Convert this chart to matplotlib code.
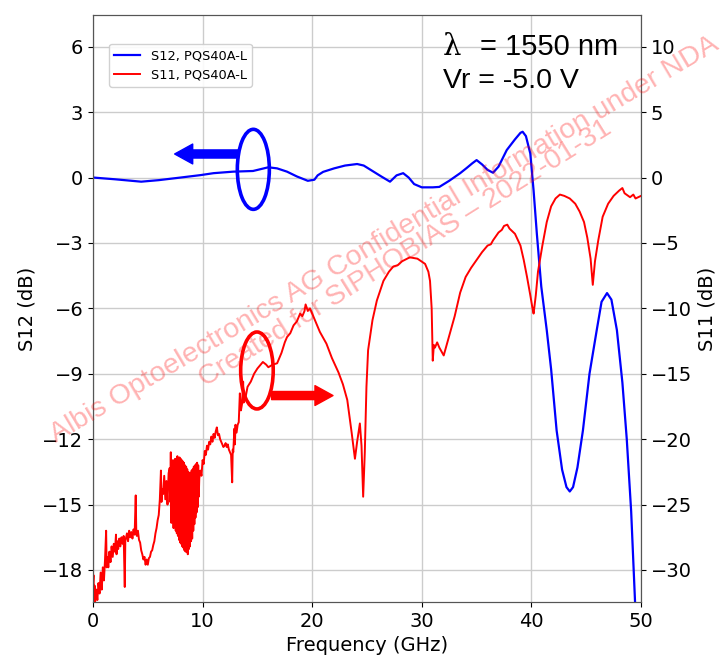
import numpy as np
import matplotlib.pyplot as plt
from matplotlib.patches import Ellipse

# S12 (left axis, dB)
f12 = [0, 2, 4.4, 6, 8, 9.8, 11, 12.8, 14.6, 16.0, 16.8, 17.7, 18.6, 19.6, 20.2,
       20.5, 21.0, 22, 23, 24.1, 24.7, 25.5, 26.3, 27.1, 27.7, 28.3, 28.8, 29.3,
       30.0, 31.0, 31.6, 32.5, 33.5, 34.1, 34.6, 35.0, 35.5, 36.0, 36.5, 37.0,
       37.75, 38.5, 39.0, 39.2, 39.5, 39.9, 40.2, 40.5, 40.9, 41.4, 41.8, 42.3,
       42.8, 43.2, 43.5, 43.8, 44.2, 44.7, 45.3, 45.96, 46.4, 46.9, 47.3, 47.8,
       48.3, 48.7, 49.1, 49.45, 49.8]
s12 = [0, -0.08, -0.19, -0.12, 0.0, 0.11, 0.2, 0.27, 0.3, 0.47, 0.42, 0.27, 0.05,
       -0.15, -0.1, 0.1, 0.26, 0.42, 0.55, 0.62, 0.55, 0.3, 0.05, -0.19, 0.1, 0.2,
       0.0, -0.3, -0.45, -0.45, -0.43, -0.15, 0.2, 0.44, 0.65, 0.8, 0.6, 0.35,
       0.22, 0.5, 1.26, 1.75, 2.05, 2.1, 1.9, 1.1, -0.6, -2.6, -5.0, -7.0, -8.8,
       -11.6, -13.4, -14.2, -14.4, -14.2, -13.3, -11.6, -9.0, -7.0, -5.7, -5.3,
       -5.6, -7.0, -9.4, -12.0, -15.3, -19.4, -23.0]

# S11 (right axis, dB), low-frequency noisy part
f11_lo = [0.0, 0.05, 0.1, 0.15, 0.2, 0.3, 0.4, 0.5, 0.6, 0.7, 0.8, 0.9, 1.0, 1.1,
          1.2, 1.25, 1.3, 1.4, 1.5, 1.6, 1.7, 1.8, 1.9, 2.0, 2.1, 2.15, 2.2, 2.3,
          2.4, 2.5, 2.6, 2.7, 2.8, 2.9, 2.95, 3.0, 3.1, 3.2, 3.3, 3.4, 3.5, 3.6,
          3.7, 3.8, 3.9, 3.95, 4.0, 4.1, 4.2, 4.3, 4.4, 4.5, 4.6, 4.7, 4.8, 4.9,
          5.0, 5.1, 5.2, 5.3, 5.4, 5.5, 5.6, 5.7, 5.8, 5.9, 6.0, 6.1, 6.2, 6.25,
          6.3, 6.4, 6.5, 6.6, 6.7, 6.8, 6.9]
s11_lo = [-31.0, -30.4, -32.4, -31.2, -32.4, -31.5, -32.3, -31.0, -31.8, -30.2,
          -31.5, -29.8, -30.8, -29.2, -27.0, -29.8, -29.0, -29.8, -28.6, -29.4,
          -28.2, -29.0, -28.0, -28.6, -27.3, -28.8, -27.8, -28.4, -27.6, -28.2,
          -27.5, -28.0, -27.4, -31.3, -27.8, -27.6, -27.2, -27.8, -27.0, -27.5,
          -27.1, -27.6, -26.9, -27.3, -24.3, -27.0, -27.4, -27.0, -27.7, -27.9,
          -28.5, -28.8, -29.2, -29.0, -29.6, -29.2, -29.6, -29.1, -29.0, -28.6,
          -28.5, -28.1, -27.8, -27.2, -26.8, -26.2, -25.8, -24.6, -22.4, -24.8,
          -23.8, -24.2, -22.8, -24.6, -23.2, -25.0, -22.6]

# dense ripple band 7-9.6 GHz: upper and lower excursions
band_f = [7.0, 7.1, 7.2, 7.3, 7.4, 7.5, 7.6, 7.7, 7.8, 7.9, 8.0, 8.1, 8.2, 8.3,
          8.4, 8.5, 8.6, 8.7, 8.8, 8.9, 9.0, 9.1, 9.2, 9.3, 9.4, 9.5, 9.6]
band_top = [-22.2, -21.0, -22.4, -21.6, -21.9, -21.5, -21.7, -21.3, -21.6, -21.4,
            -21.5, -21.6, -21.7, -21.8, -22.0, -22.1, -22.3, -22.5, -22.6, -22.6,
            -22.4, -22.3, -22.1, -22.0, -21.9, -21.8, -22.0]
band_bot = [-24.8, -26.4, -25.6, -26.8, -26.3, -27.0, -27.2, -27.4, -27.7, -27.9,
            -28.0, -28.2, -28.3, -28.5, -28.6, -28.6, -28.8, -28.4, -28.2, -27.8,
            -27.6, -27.0, -26.5, -26.0, -25.6, -25.2, -24.4]

f11_hi = [9.7, 9.8, 9.9, 10.0, 10.1, 10.2, 10.3, 10.4, 10.5, 10.6, 10.7, 10.8,
          10.9, 11.0, 11.1, 11.2, 11.3, 11.4, 11.5, 11.6, 11.7, 11.8, 11.9, 12.0,
          12.1, 12.2, 12.3, 12.4, 12.5, 12.6, 12.7, 12.75, 12.8, 12.9, 12.95,
          13.0, 13.1, 13.2, 13.3, 13.4, 13.5, 13.6, 13.7, 13.75, 13.8, 13.9, 14.1,
          14.4, 14.7, 15.0, 15.5, 15.8, 16.0, 16.4, 16.8, 17.2, 17.5, 17.7, 18.0,
          18.3, 18.6, 18.9, 19.1, 19.3, 19.4, 19.6, 19.8, 20.25, 20.7, 21.3, 21.8,
          22.4, 22.8, 23.2, 23.6, 23.9, 24.1, 24.35, 24.5, 24.65, 24.8, 24.95, 25.1,
          25.5, 25.9, 26.5, 27.0, 27.4, 27.8, 28.2, 28.9, 29.6, 30.3, 30.6, 30.75,
          30.9, 31.0, 31.1, 31.2, 31.4, 31.6, 31.8, 32.0, 32.2, 32.4, 32.6, 32.8,
          33.0, 33.5, 34.0, 34.5, 35.0, 35.5, 36.0, 36.3, 36.5, 37.0, 37.3, 37.5,
          37.8, 38.0, 38.5, 39.0, 39.3, 39.6, 39.9, 40.1, 40.2, 40.4, 40.6, 41.0,
          41.4, 41.8, 42.2, 42.6, 43.0, 43.5, 44.0, 44.4, 44.8, 45.1, 45.4, 45.6,
          45.8, 46.1, 46.5, 47.0, 47.5, 48.0, 48.3, 48.5, 49.0, 49.3, 49.5, 50.0]
s11_hi = [-23.0, -22.4, -22.8, -21.6, -21.9, -20.9, -21.2, -20.5, -20.8, -20.2,
          -20.4, -19.8, -20.2, -19.6, -19.9, -19.4, -19.1, -19.7, -19.6, -20.0,
          -20.2, -20.4, -20.6, -20.5, -20.3, -20.6, -20.4, -20.8, -21.0, -21.2,
          -23.3, -20.8, -21.0, -19.2, -20.4, -18.9, -19.5, -18.9, -18.7, -16.5,
          -17.8, -17.3, -15.6, -17.2, -16.8, -16.9, -16.0, -15.6, -15.0, -14.6,
          -14.1, -14.3, -14.5, -14.3, -14.2, -13.4, -12.6, -12.2, -11.9, -11.3,
          -11.0, -10.4, -10.6, -10.2, -9.7, -10.2, -10.0, -10.9, -11.8, -12.7,
          -13.8, -14.9, -15.8, -17.0, -19.5, -21.5, -20.2, -18.8, -20.5, -24.4,
          -21.0, -16.0, -13.2, -10.9, -9.4, -7.9, -7.2, -6.8, -6.7, -6.4, -6.1,
          -6.2, -6.6, -7.2, -7.9, -10.0, -14.0, -12.8, -13.0, -12.6, -13.0, -13.3,
          -13.6, -13.0, -12.4, -11.8, -11.2, -10.6, -8.8, -7.6, -6.9, -6.3, -5.7,
          -5.2, -5.1, -4.8, -4.2, -4.0, -3.7, -3.6, -3.9, -4.3, -5.2, -6.3, -7.6,
          -9.0, -10.0, -10.4, -9.0, -7.2, -5.2, -3.4, -2.2, -1.6, -1.3, -1.4, -1.6,
          -2.0, -2.6, -3.4, -4.6, -6.2, -8.2, -6.4, -4.8, -3.0, -2.0, -1.4, -1.0,
          -0.8, -1.2, -1.5, -1.3, -1.6, -1.4]

f11 = list(f11_lo)
s11 = list(s11_lo)
for f, t, b in zip(band_f, band_top, band_bot):
    f11 += [f, f + 0.05]
    s11 += [t, b]
f11 += f11_hi
s11 += s11_hi

fig = plt.figure(figsize=(7.23, 6.57), dpi=100)
ax = fig.add_axes([0.1286, 0.0837, 0.758, 0.8933])
ax2 = ax.twinx()

l1, = ax.plot(f12, s12, color="blue", lw=1.6, label="S12, PQS40A-L")
l2, = ax2.plot(f11, s11, color="red", lw=1.4, label="S11, PQS40A-L")

ax.set_xlim(0, 50)
ax.set_ylim(-19.47, 7.45)
ax2.set_ylim(-32.45, 12.42)
ax.set_yticks([-18, -15, -12, -9, -6, -3, 0, 3, 6])
ax2.set_yticks([-30, -25, -20, -15, -10, -5, 0, 5, 10])
ax.set_xticks([0, 10, 20, 30, 40, 50])
ax.grid(True, color="#cccccc", lw=1.0)
ax.tick_params(labelsize=14)
ax2.tick_params(labelsize=14)
ax.set_xlabel("Frequency (GHz)", fontsize=14)
ax.set_ylabel("S12 (dB)", fontsize=14)
ax2.set_ylabel("S11 (dB)", fontsize=14)
for a in (ax, ax2):
    for s in a.spines.values():
        s.set_color("#555555")

ax.legend(handles=[l1, l2], loc="upper left", bbox_to_anchor=(0.018, 0.962),
          fontsize=9.3, framealpha=0.9)

# annotations
ax.add_patch(Ellipse((14.63, 0.376), 2.92, 3.67, fill=False, ec="blue", lw=2.6, zorder=5))
ax.annotate("", xy=(7.45, 1.08), xytext=(13.3, 1.08),
            arrowprops=dict(arrowstyle="simple,head_length=1.0,head_width=1.1,tail_width=0.45",
                            color="blue", mutation_scale=13, shrinkA=0, shrinkB=0))
ax.add_patch(Ellipse((14.96, -8.85), 2.97, 3.53, fill=False, ec="red", lw=2.6, zorder=5))
ax.annotate("", xy=(21.9, -10.0), xytext=(16.3, -10.0),
            arrowprops=dict(arrowstyle="simple,head_length=1.0,head_width=1.1,tail_width=0.45",
                            color="red", mutation_scale=13, shrinkA=0, shrinkB=0))

fig.text(0.612, 0.928, "\u03bb", fontsize=21, family="DejaVu Serif",
         ha="left", va="center")
fig.text(0.664, 0.928, "= 1550 nm", fontsize=21, family="Liberation Sans",
         ha="left", va="center")
fig.text(0.613, 0.877, "Vr = -5.0 V", fontsize=20.5, family="Liberation Sans",
         ha="left", va="center")

# watermark
fig.text(0.532, 0.635, "Albis Optoelectronics AG Confidential Information under NDA",
         fontsize=20.5, family="Liberation Sans", color="red", alpha=0.3,
         rotation=30.7, ha="center", va="center", rotation_mode="anchor")
fig.text(0.560, 0.614, "Created for SIPHOBIAS \u2013 2022-01-31",
         fontsize=20.5, family="Liberation Sans", color="red", alpha=0.3,
         rotation=32, ha="center", va="center", rotation_mode="anchor")

fig.savefig("out.png", dpi=100)
